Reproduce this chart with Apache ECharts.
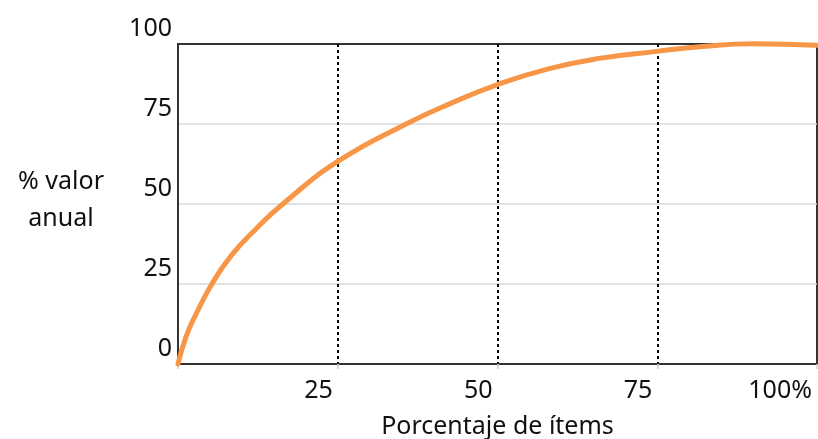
<!DOCTYPE html>
<html>
<head>
<meta charset="utf-8">
<script src="https://cdn.jsdelivr.net/npm/echarts@6/dist/echarts.min.js"></script>
<style>
html,body{margin:0;padding:0;background:#fff;}
#chart{width:818px;height:439px;}
</style>
</head>
<body>
<div id="chart"></div>
<script>
// Data
const itemPct = [0, 1.25, 2.8, 5.3, 8.3, 12.2, 16.4, 25, 35.7, 42.5, 50, 58.1, 65.9, 74.9, 82, 90, 100];
const valuePct = [0, 8.5, 15.5, 25, 33.8, 42.2, 50, 63.3, 75, 81.3, 87.3, 92.3, 95.5, 97.7, 99.2, 100.1, 99.6];
const xTickLabels = ['', '25', '50', '75', '100%'];
const yTickLabels = ['0', '25', '50', '75', '100'];
const xTitle = 'Porcentaje de ítems';
const yTitle = '% valor\nanual';

const FONT = 'Noto Sans';
const TXT = '#111';
const chart = echarts.init(document.getElementById('chart'), null, {renderer: 'canvas'});
const seriesData = itemPct.map((x, i) => [x, valuePct[i]]);

chart.setOption({
  animation: false,
  backgroundColor: '#fff',
  title: {
    text: yTitle,
    left: 56,
    top: 158,
    textAlign: 'center',
    textStyle: {fontFamily: FONT, fontSize: 25, fontWeight: 'normal', color: TXT, lineHeight: 37}
  },
  grid: {
    left: 178, top: 44, right: 1, bottom: 75,
    outerBoundsMode: 'none',
    show: true, borderColor: '#333', borderWidth: 2, backgroundColor: 'transparent',
    containLabel: false
  },
  xAxis: {
    type: 'value', min: 0, max: 100, interval: 25,
    name: xTitle, nameLocation: 'middle', nameGap: 50,
    nameTextStyle: {fontFamily: FONT, fontSize: 25, color: TXT},
    axisLine: {show: true, lineStyle: {color: '#333', width: 2}},
    axisTick: {show: true, length: 5, lineStyle: {color: '#d0d0d0', width: 1.5}},
    axisLabel: {
      fontFamily: FONT, fontSize: 25, color: TXT, margin: 14,
      align: 'right', padding: [0, 5, 0, 0],
      showMinLabel: true, showMaxLabel: true,
      formatter: (v) => xTickLabels[Math.round(v / 25)]
    },
    splitLine: {show: true, showMinLine: false, showMaxLine: false,
      lineStyle: {color: '#000', width: 2, type: [3, 3]}}
  },
  yAxis: {
    type: 'value', min: 0, max: 100, interval: 25,
    axisLine: {show: true, lineStyle: {color: '#333', width: 2}},
    axisTick: {show: false},
    axisLabel: {
      fontFamily: FONT, fontSize: 25, color: TXT, margin: 6,
      verticalAlign: 'bottom', padding: [0, 0, 3, 0],
      showMinLabel: true, showMaxLabel: true,
      formatter: (v) => yTickLabels[Math.round(v / 25)]
    },
    splitLine: {show: true, showMinLine: false, showMaxLine: false,
      lineStyle: {color: '#d9d9d9', width: 1.5}}
  },
  series: [{
    type: 'line',
    data: seriesData,
    smooth: 0.5,
    showSymbol: false,
    clip: false,
    lineStyle: {color: '#F79646', width: 5, cap: 'round'},
    z: 5
  }]
});
</script>
</body>
</html>
